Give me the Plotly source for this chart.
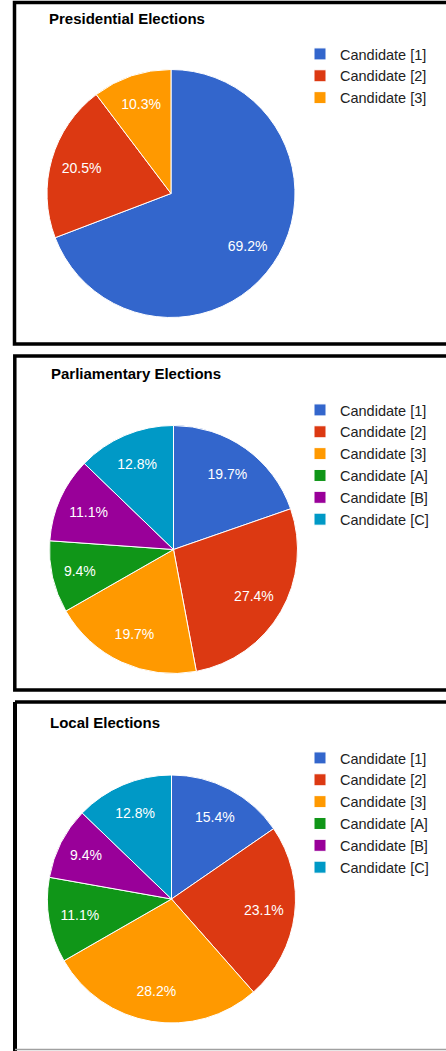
import plotly.graph_objects as go

W, H = 446, 1051

# ---------------- data ----------------
titles = ["Presidential Elections", "Parliamentary Elections", "Local Elections"]

pres_labels = ["Candidate [1]", "Candidate [2]", "Candidate [3]"]
pres_values = [69.2, 20.5, 10.3]

parl_labels = ["Candidate [1]", "Candidate [2]", "Candidate [3]",
               "Candidate [A]", "Candidate [B]", "Candidate [C]"]
parl_values = [19.7, 27.4, 19.7, 9.4, 11.1, 12.8]

local_labels = ["Candidate [1]", "Candidate [2]", "Candidate [3]",
                "Candidate [A]", "Candidate [B]", "Candidate [C]"]
local_values = [15.4, 23.1, 28.2, 11.1, 9.4, 12.8]

colors = ["#3366cc", "#dc3912", "#ff9900", "#109618", "#990099", "#0099c6"]

# ---------------- layout helpers (pixels -> paper) ----------------
def px(x):
    return x / W

def py(y):
    return 1 - y / H

FONT = "Arial, Liberation Sans, sans-serif"
R = 124

panels = [
    dict(labels=pres_labels, values=pres_values, title=titles[0],
         cx=171, cy=193.5, title_x=47, title_y=18.5, leg_x=300, leg_y=38),
    dict(labels=parl_labels, values=parl_values, title=titles[1],
         cx=173.5, cy=549.5, title_x=49, title_y=373.5, leg_x=300, leg_y=394),
    dict(labels=local_labels, values=local_values, title=titles[2],
         cx=171.5, cy=899, title_x=48, title_y=722.5, leg_x=300, leg_y=742),
]

fig = go.Figure()
annotations = []
legend_names = ["legend", "legend2", "legend3"]
layout_legends = {}

for i, p in enumerate(panels):
    dom = dict(x=[px(p["cx"] - R), px(p["cx"] + R)],
               y=[py(p["cy"] + R), py(p["cy"] - R)])
    n = len(p["values"])
    # pie legend entries are shared by label across traces; a zero-width
    # suffix keeps each panel's legend complete
    lbls = [l + "\u200b" * i for l in p["labels"]]
    # filled slices
    fig.add_trace(go.Pie(
        labels=lbls, values=p["values"], domain=dom,
        sort=False, direction="clockwise", rotation=0,
        marker=dict(colors=colors[:n], line=dict(color="white", width=1)),
        textinfo="none", hoverinfo="label+percent",
        legend=legend_names[i], showlegend=True,
    ))
    # transparent ring carrying the percentage labels
    fig.add_trace(go.Pie(
        labels=lbls, values=p["values"], domain=dom, hole=0.5,
        sort=False, direction="clockwise", rotation=0,
        marker=dict(colors=["rgba(0,0,0,0)"] * n, line=dict(width=0)),
        texttemplate="%{value:.1f}%", textposition="inside",
        insidetextorientation="horizontal",
        insidetextfont=dict(family=FONT, size=14, color="white"),
        hoverinfo="skip", showlegend=False, legend=legend_names[i],
    ))
    annotations.append(dict(
        text="<b>%s</b>" % p["title"], x=px(p["title_x"]), y=py(p["title_y"]),
        xref="paper", yref="paper", xanchor="left", yanchor="middle",
        showarrow=False, font=dict(family=FONT, size=15, color="#000000"),
    ))
    layout_legends[legend_names[i]] = dict(
        x=px(p["leg_x"]), y=py(p["leg_y"]), xanchor="left", yanchor="top",
        font=dict(family=FONT, size=14.5, color="#222222"),
        bgcolor="rgba(0,0,0,0)", borderwidth=0, traceorder="normal",
    )

# panel frames
BLACK = "#000000"
shapes = [
    # panel 1
    dict(type="rect", x0=px(14.5), x1=px(470), y0=py(2.5), y1=py(344),
         line=dict(color=BLACK, width=3.5)),
    # panel 2
    dict(type="rect", x0=px(14.8), x1=px(470), y0=py(356), y1=py(690),
         line=dict(color=BLACK, width=3.5)),
    # panel 3
    dict(type="line", x0=px(15), x1=px(470), y0=py(702), y1=py(702),
         line=dict(color=BLACK, width=3.5)),
    dict(type="line", x0=px(15), x1=px(15), y0=py(702), y1=py(1051),
         line=dict(color=BLACK, width=4)),
    dict(type="line", x0=px(15), x1=px(470), y0=py(1049.5), y1=py(1049.5),
         line=dict(color="#a0a0a0", width=1.5)),
]
for s in shapes:
    s["xref"] = "paper"
    s["yref"] = "paper"

fig.update_layout(
    width=W, height=H, margin=dict(l=0, r=0, t=0, b=0),
    paper_bgcolor="white", plot_bgcolor="white",
    annotations=annotations, shapes=shapes,
    **layout_legends,
)

fig.write_html("out.html")
